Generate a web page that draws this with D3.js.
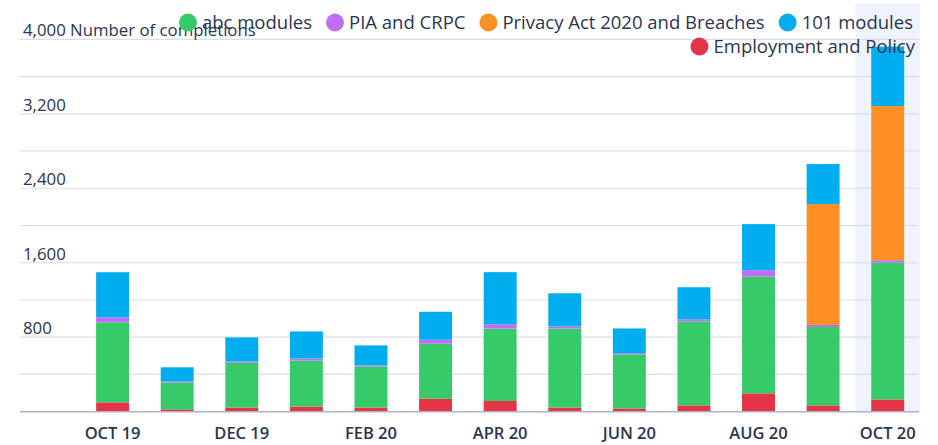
<!DOCTYPE html>
<html>
<head>
<meta charset="utf-8">
<script src="https://cdn.jsdelivr.net/npm/d3@7"></script>
<style>
  body { margin: 0; background: #fff; }
  svg { display: block; font-family: "Open Sans", Lato, sans-serif; }
</style>
</head>
<body>
<svg id="chart" width="938" height="445"></svg>
<script>
var MONTHS = ['OCT 19', 'NOV 19', 'DEC 19', 'JAN 20', 'FEB 20', 'MAR 20', 'APR 20',
              'MAY 20', 'JUN 20', 'JUL 20', 'AUG 20', 'SEP 20', 'OCT 20'];
var TICK_MONTHS = ['OCT 19', 'DEC 19', 'FEB 20', 'APR 20', 'JUN 20', 'AUG 20', 'OCT 20'];
var Y_TICKS = [0, 400, 800, 1200, 1600, 2000, 2400, 2800, 3200, 3600, 4000];
var Y_LABELS = [800, 1600, 2400, 3200];

var employment = [100, 25, 45, 55, 45, 140, 115, 45, 35, 68, 197, 68, 132];
var abc        = [860, 290, 480, 495, 440, 590, 778, 850, 580, 903, 1255, 842, 1470];
var pia        = [54, 12, 15, 22, 12, 43, 46, 22, 14, 22, 68, 22, 25];
var privacy    = [0, 0, 0, 0, 0, 0, 0, 0, 0, 0, 0, 1298, 1656];
var mod101     = [484, 150, 258, 290, 215, 300, 560, 355, 265, 344, 495, 430, 638];

var SERIES = [
  {key: 'employment', name: 'Employment and Policy', color: '#e43446', values: employment},
  {key: 'abc', name: 'abc modules', color: '#37ca68', values: abc},
  {key: 'pia', name: 'PIA and CRPC', color: '#bf6ef7', values: pia},
  {key: 'privacy', name: 'Privacy Act 2020 and Breaches', color: '#fd8f25', values: privacy},
  {key: 'mod101', name: '101 modules', color: '#00adee', values: mod101}
];

var rows = MONTHS.map(function(m, i){
  var r = {month: m};
  SERIES.forEach(function(s){ r[s.key] = s.values[i]; });
  return r;
});

var svg = d3.select('#chart');
var textColor = '#2b3453';

var x = d3.scaleBand().domain(MONTHS).range([80.3, 920]).paddingInner(0.49).paddingOuter(0.245);
var y = d3.scaleLinear().domain([0, 4000]).range([411.7, 39.3]);

// highlighted last month
var last = MONTHS[MONTHS.length - 1];
svg.append('rect')
    .attr('x', x(last) + x.bandwidth() / 2 - x.step() / 2)
    .attr('y', 3)
    .attr('width', x.step())
    .attr('height', y(0) - 3)
    .attr('fill', '#eff3fb');

// grid
svg.append('g').selectAll('line')
    .data(Y_TICKS.slice(1))
    .enter().append('line')
        .attr('x1', 20).attr('x2', 919)
        .attr('y1', function(d){ return y(d); })
        .attr('y2', function(d){ return y(d); })
        .attr('stroke', '#dadee7')
        .attr('stroke-width', 1.2);

// y labels
svg.append('g').selectAll('text')
    .data(Y_LABELS)
    .enter().append('text')
        .attr('x', 23)
        .attr('y', function(d){ return y(d) - 3; })
        .attr('fill', textColor)
        .style('font-size', '16.8px')
        .text(function(d){ return d3.format(',')(d); });

svg.append('text')
    .attr('x', 23)
    .attr('y', y(4000) - 3)
    .attr('fill', textColor)
    .style('font-size', '16.8px')
    .text(d3.format(',')(4000) + ' Number of completions');

// bars
var stack = d3.stack().keys(SERIES.map(function(s){ return s.key; }));
var layers = stack(rows);

svg.append('g').selectAll('g')
    .data(layers)
    .enter().append('g')
        .attr('fill', function(d, i){ return SERIES[i].color; })
    .selectAll('rect')
    .data(function(d){ return d; })
    .enter().append('rect')
        .attr('x', function(d){ return x(d.data.month); })
        .attr('y', function(d){ return y(d[1]); })
        .attr('width', x.bandwidth())
        .attr('height', function(d){ return y(d[0]) - y(d[1]); });

// baseline
svg.append('line')
    .attr('x1', 20).attr('x2', 919)
    .attr('y1', y(0)).attr('y2', y(0))
    .attr('stroke', '#aab3c7')
    .attr('stroke-width', 1.5);

// x labels
svg.append('g').selectAll('text')
    .data(TICK_MONTHS)
    .enter().append('text')
        .attr('x', function(d){ return x(d) + x.bandwidth() / 2; })
        .attr('y', 439)
        .attr('text-anchor', 'middle')
        .attr('fill', textColor)
        .style('font-size', '16.5px')
        .style('font-weight', 600)
        .text(function(d){ return d; });

// legend, right aligned, two rows
var legendRows = [
  {right: 913, cy: 22.5, items: ['abc', 'pia', 'privacy', 'mod101']},
  {right: 915, cy: 46.5, items: ['employment']}
];
var legend = svg.append('g').style('font-size', '18.5px');
legendRows.forEach(function(row){
  var xr = row.right;
  row.items.slice().reverse().forEach(function(k){
    var s = SERIES.filter(function(d){ return d.key === k; })[0];
    var t = legend.append('text')
        .attr('y', row.cy + 6.5)
        .attr('fill', textColor)
        .text(s.name);
    var w = t.node().getComputedTextLength();
    t.attr('x', xr - w);
    legend.append('circle')
        .attr('cx', xr - w - 14)
        .attr('cy', row.cy)
        .attr('r', 9)
        .attr('fill', s.color);
    xr = xr - w - 14 - 9 - 14;
  });
});
</script>
</body>
</html>
